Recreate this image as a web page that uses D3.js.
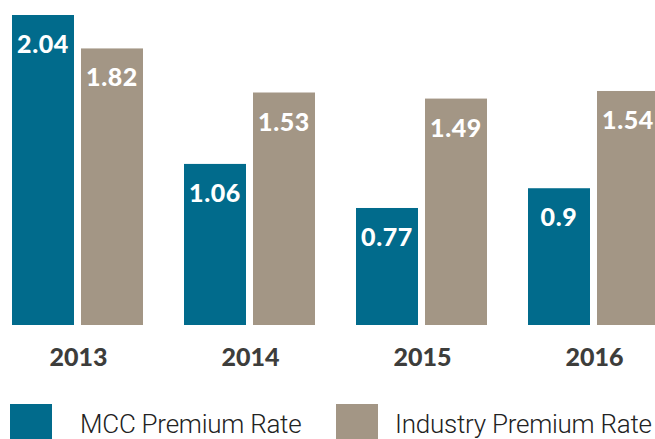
<!DOCTYPE html>
<html>
<head>
<meta charset="utf-8">
<script src="https://cdn.jsdelivr.net/npm/d3@7"></script>
<style>
  html, body { margin: 0; padding: 0; background: #fff; overflow: hidden; }
  svg { display: block; }
</style>
</head>
<body>
<svg id="chart" width="655" height="439"></svg>
<script>
// Premium rates by year
const years = ["2013", "2014", "2015", "2016"];
const mccRates = [2.04, 1.06, 0.77, 0.9];
const industryRates = [1.82, 1.53, 1.49, 1.54];
const seriesNames = ["MCC Premium Rate", "Industry Premium Rate"];
const seriesColors = ["#016b8c", "#a39685"];

const svg = d3.select("#chart");
const baseline = 325;

// group band for years, inner band for the two series
const x0 = d3.scaleBand()
  .domain(years)
  .range([12, 659])
  .paddingInner(41 / 172)
  .paddingOuter(0);

const x1 = d3.scaleBand()
  .domain([0, 1])
  .range([0, x0.bandwidth()])
  .paddingInner(7 / 69)
  .paddingOuter(0);

const y = d3.scaleLinear()
  .domain([0, 2.04])
  .range([baseline, 15]);

const rows = years.map((yr, i) => ({ year: yr, values: [mccRates[i], industryRates[i]] }));

const groups = svg.selectAll("g.year")
  .data(rows)
  .join("g")
  .attr("class", "year")
  .attr("transform", d => `translate(${x0(d.year)},0)`);

groups.selectAll("rect")
  .data(d => d.values.map((v, s) => ({ v, s })))
  .join("rect")
  .attr("x", d => x1(d.s))
  .attr("width", x1.bandwidth())
  .attr("y", d => y(d.v))
  .attr("height", d => baseline - y(d.v))
  .attr("fill", d => seriesColors[d.s]);

groups.selectAll("text.val")
  .data(d => d.values.map((v, s) => ({ v, s })))
  .join("text")
  .attr("class", "val")
  .attr("x", d => x1(d.s) + x1.bandwidth() / 2)
  .attr("y", d => y(d.v) + 38)
  .attr("text-anchor", "middle")
  .attr("fill", "#fff")
  .style("font-family", "Lato, 'DejaVu Sans', sans-serif")
  .style("font-weight", 900)
  .style("font-size", "25px")
  .style("letter-spacing", "0.6px")
  .text(d => d.v);

// year labels under each group
const xAxis = d3.axisBottom(x0).tickSize(0).tickPadding(0);
const axisG = svg.append("g")
  .attr("transform", `translate(1,${baseline})`)
  .call(xAxis);
axisG.select(".domain").remove();
axisG.selectAll("text")
  .attr("y", 41)
  .attr("dy", 0)
  .attr("fill", "#3d3d3b")
  .style("font-family", "Lato, 'DejaVu Sans', sans-serif")
  .style("font-weight", 900)
  .style("font-size", "25px");

// legend
const legendX = [10, 336];
const legendTextX = [70, 59];
const legend = svg.selectAll("g.legend")
  .data(seriesNames)
  .join("g")
  .attr("class", "legend")
  .attr("transform", (d, i) => `translate(${legendX[i]},404)`);
legend.append("rect")
  .attr("width", 42)
  .attr("height", 42)
  .attr("fill", (d, i) => seriesColors[i]);
legend.append("text")
  .attr("x", (d, i) => legendTextX[i])
  .attr("y", 29)
  .attr("fill", "#222")
  .style("font-family", "Roboto, 'Liberation Sans', sans-serif")
  .style("font-weight", 300)
  .style("font-size", "26px")
  .style("letter-spacing", "-0.25px")
  .text(d => d);
</script>
</body>
</html>
